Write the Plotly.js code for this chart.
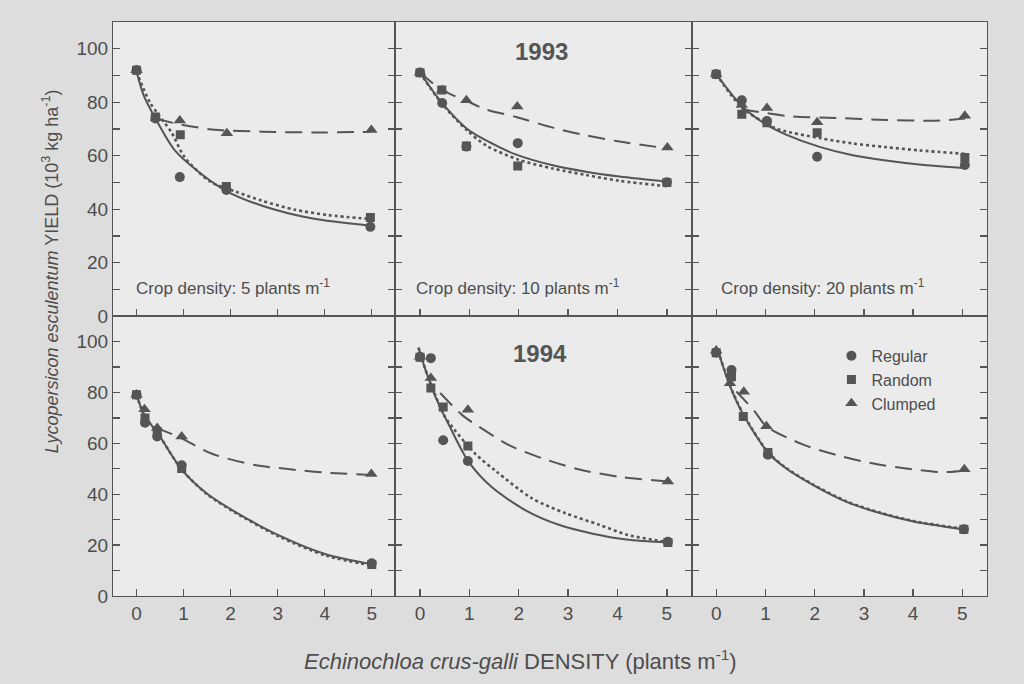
<!DOCTYPE html>
<html>
<head>
<meta charset="utf-8">
<script src="https://cdn.plot.ly/plotly-3.0.1.min.js"></script>
<style>
  html, body { margin: 0; padding: 0; background: #dddddd; }
  #chart { width: 1024px; height: 684px; }
</style>
</head>
<body>
<div id="chart"></div>
<script>
// ---------- tick labels / categories ----------
const xTickVals = [0, 1, 2, 3, 4, 5];
const yTickVals = [0, 20, 40, 60, 80, 100];
const yTickText = ['0', '20', '40', '60', '80', '100'];
const seriesNames = ['Regular', 'Random', 'Clumped'];
const years = ['1993', '1994'];
const cropDensities = ['5', '10', '20'];

// ---------- 1993, crop density 5 ----------
const p93d5_regX = [0, 0.4, 0.92, 1.91, 4.97];
const p93d5_regY = [92, 73.9, 52, 47.2, 33.4];
const p93d5_ranX = [0, 0.4, 0.93, 1.91, 4.97];
const p93d5_ranY = [92, 74.5, 67.8, 48.5, 36.9];
const p93d5_cluX = [0, 0.42, 0.92, 1.92, 4.99];
const p93d5_cluY = [92, 74, 73.2, 68.4, 69.6];
const p93d5_fitRegX = [0, 0.15, 0.41, 0.81, 1.29, 1.91, 2.67, 3.72, 4.98];
const p93d5_fitRegY = [91.5, 82.7, 73.7, 62.1, 54.4, 46.8, 41.3, 36.6, 33.8];
const p93d5_fitRanX = [0, 0.28, 0.75, 1.02, 1.56, 2.12, 2.66, 3.37, 4.08, 4.98];
const p93d5_fitRanY = [91.5, 80.1, 68.5, 59.5, 50.4, 46.5, 43.2, 39.8, 37.8, 36.3];
const p93d5_fitCluX = [0.42, 0.96, 1.66, 2.66, 3.77, 4.96];
const p93d5_fitCluY = [73.7, 71.6, 69.7, 69.0, 68.7, 68.9];

// ---------- 1993, crop density 10 ----------
const p93d10_regX = [0, 0.45, 0.94, 1.98, 5.0];
const p93d10_regY = [91.1, 79.7, 63.4, 64.7, 50.1];
const p93d10_ranX = [0, 0.44, 0.94, 1.98, 5.0];
const p93d10_ranY = [91, 84.6, 63.6, 56.2, 50];
const p93d10_cluX = [0, 0.45, 0.94, 1.97, 5.01];
const p93d10_cluY = [91, 84.5, 80.7, 78.4, 63.1];
const p93d10_fitRegX = [0, 0.42, 0.95, 1.35, 1.95, 2.69, 3.36, 4.04, 5.02];
const p93d10_fitRegY = [91.1, 80.3, 70.1, 65.6, 60.4, 56.4, 54.0, 52.2, 50.3];
const p93d10_fitRanX = [0, 0.42, 0.95, 1.35, 2.0, 2.69, 3.36, 4.04, 5.0];
const p93d10_fitRanY = [91.1, 80.0, 69.5, 63.7, 58.5, 55.2, 52.8, 50.6, 48.6];
const p93d10_fitCluX = [0, 0.44, 0.94, 1.35, 1.95, 2.69, 3.36, 4.04, 5.02];
const p93d10_fitCluY = [91.1, 84.6, 80.5, 77.2, 74.5, 70.5, 67.6, 65.3, 62.7];

// ---------- 1993, crop density 20 ----------
const p93d20_regX = [0, 0.52, 1.03, 2.05, 5.05];
const p93d20_regY = [90.5, 80.7, 73, 59.6, 56.5];
const p93d20_ranX = [0, 0.52, 1.03, 2.05, 5.05];
const p93d20_ranY = [90.5, 75.5, 72.3, 68.6, 59.3];
const p93d20_cluX = [0, 0.52, 1.03, 2.05, 5.05];
const p93d20_cluY = [90.5, 79, 77.8, 72.5, 74.9];
const p93d20_fitRegX = [0, 0.52, 1.02, 1.43, 2.1, 2.77, 3.45, 4.12, 5.06];
const p93d20_fitRegY = [90.5, 78.6, 71.6, 67.8, 63.3, 60.2, 58.2, 56.7, 55.3];
const p93d20_fitRanX = [0, 0.52, 1.02, 1.29, 2.1, 2.77, 3.45, 4.12, 5.06];
const p93d20_fitRanY = [90.5, 78, 72, 69.7, 66.6, 64.6, 63.2, 62.0, 60.7];
const p93d20_fitCluX = [0.52, 1.43, 2.44, 3.45, 4.46, 5.06];
const p93d20_fitCluY = [77.4, 74.9, 74.1, 73.4, 73.1, 73.9];

// ---------- 1994, crop density 5 ----------
const p94d5_regX = [0, 0.18, 0.44, 0.96, 5.0];
const p94d5_regY = [79.1, 68.1, 62.7, 51.4, 12.9];
const p94d5_ranX = [0, 0.18, 0.44, 0.96, 5.0];
const p94d5_ranY = [79.1, 70, 64.7, 50.1, 12.4];
const p94d5_cluX = [0, 0.17, 0.44, 0.96, 4.99];
const p94d5_cluY = [79.1, 73.4, 66, 62.7, 48.0];
const p94d5_fitRegX = [0, 0.17, 0.44, 0.96, 1.5, 2.06, 3.05, 4.04, 5.0];
const p94d5_fitRegY = [79.1, 70.8, 64.3, 49.7, 40.2, 33.5, 23.6, 16.3, 12.5];
const p94d5_fitRanX = [0, 0.17, 0.44, 0.96, 1.5, 2.06, 3.05, 4.04, 5.0];
const p94d5_fitRanY = [79.1, 70.8, 64.3, 49.7, 40.0, 33.2, 23.2, 15.8, 12.0];
const p94d5_fitCluX = [0.42, 0.96, 1.59, 2.51, 3.22, 3.94, 4.99];
const p94d5_fitCluY = [66.1, 62.0, 56.0, 51.5, 49.9, 48.6, 47.6];

// ---------- 1994, crop density 10 ----------
const p94d10_regX = [0, 0.22, 0.47, 0.97, 5.02];
const p94d10_regY = [94, 93.5, 61.2, 53.1, 21.3];
const p94d10_ranX = [0, 0.22, 0.47, 0.97, 5.02];
const p94d10_ranY = [93.9, 81.8, 74.3, 59.0, 21.0];
const p94d10_cluX = [0, 0.22, 0.97, 5.02];
const p94d10_cluY = [94, 85.7, 73.2, 45.0];
const p94d10_fitRegX = [-0.03, 0.11, 0.31, 0.6, 0.98, 1.44, 2.12, 2.81, 3.5, 4.18, 5.02];
const p94d10_fitRegY = [97.6, 89.0, 78.5, 66.7, 52.9, 43.0, 33.9, 28.0, 24.5, 22.2, 21.0];
const p94d10_fitRanX = [-0.03, 0.11, 0.31, 0.5, 1.11, 1.55, 2.26, 2.95, 3.63, 4.19, 4.85, 5.02];
const p94d10_fitRanY = [97.6, 89, 79, 70.6, 56.1, 48.9, 38.5, 32.5, 28.0, 24.1, 21.7, 21.2];
const p94d10_fitCluX = [0.41, 0.85, 1.19, 1.80, 2.48, 3.23, 4.06, 5.02];
const p94d10_fitCluY = [79.8, 71.2, 66.6, 59.3, 54.1, 49.7, 46.8, 45.0];

// ---------- 1994, crop density 20 ----------
const p94d20_regX = [0, 0.31, 1.05, 5.03];
const p94d20_regY = [95.6, 88.8, 55.5, 26.2];
const p94d20_ranX = [0, 0.31, 0.55, 1.05, 5.03];
const p94d20_ranY = [95.6, 86.2, 70.6, 56.4, 26.2];
const p94d20_cluX = [0, 0.28, 0.56, 1.02, 5.04];
const p94d20_cluY = [96.5, 83.6, 80.3, 66.7, 49.8];
const p94d20_fitRegX = [0.04, 0.27, 0.55, 1.05, 1.43, 1.98, 2.66, 3.34, 4.03, 5.03];
const p94d20_fitRegY = [96.2, 83.0, 71.3, 56.4, 50.0, 43.5, 36.9, 32.5, 29.2, 26.2];
const p94d20_fitRanX = [0.04, 0.27, 0.55, 1.05, 1.43, 1.98, 2.66, 3.34, 4.03, 5.03];
const p94d20_fitRanY = [96.4, 83.2, 71.5, 56.6, 50.2, 43.7, 37.1, 32.7, 29.4, 26.4];
const p94d20_fitCluX = [0.41, 0.78, 1.02, 1.77, 2.45, 3.13, 3.82, 4.57, 5.04];
const p94d20_fitCluY = [80.4, 72.6, 66.7, 59.5, 55.4, 52.3, 50.2, 48.7, 49.3];

// ---------- assemble ----------
const panels = [
  {ax: '', pts: [[p93d5_regX, p93d5_regY], [p93d5_ranX, p93d5_ranY], [p93d5_cluX, p93d5_cluY]],
   fits: [[p93d5_fitRegX, p93d5_fitRegY], [p93d5_fitRanX, p93d5_fitRanY], [p93d5_fitCluX, p93d5_fitCluY]]},
  {ax: '2', pts: [[p93d10_regX, p93d10_regY], [p93d10_ranX, p93d10_ranY], [p93d10_cluX, p93d10_cluY]],
   fits: [[p93d10_fitRegX, p93d10_fitRegY], [p93d10_fitRanX, p93d10_fitRanY], [p93d10_fitCluX, p93d10_fitCluY]]},
  {ax: '3', pts: [[p93d20_regX, p93d20_regY], [p93d20_ranX, p93d20_ranY], [p93d20_cluX, p93d20_cluY]],
   fits: [[p93d20_fitRegX, p93d20_fitRegY], [p93d20_fitRanX, p93d20_fitRanY], [p93d20_fitCluX, p93d20_fitCluY]]},
  {ax: '4', pts: [[p94d5_regX, p94d5_regY], [p94d5_ranX, p94d5_ranY], [p94d5_cluX, p94d5_cluY]],
   fits: [[p94d5_fitRegX, p94d5_fitRegY], [p94d5_fitRanX, p94d5_fitRanY], [p94d5_fitCluX, p94d5_fitCluY]]},
  {ax: '5', pts: [[p94d10_regX, p94d10_regY], [p94d10_ranX, p94d10_ranY], [p94d10_cluX, p94d10_cluY]],
   fits: [[p94d10_fitRegX, p94d10_fitRegY], [p94d10_fitRanX, p94d10_fitRanY], [p94d10_fitCluX, p94d10_fitCluY]]},
  {ax: '6', pts: [[p94d20_regX, p94d20_regY], [p94d20_ranX, p94d20_ranY], [p94d20_cluX, p94d20_cluY]],
   fits: [[p94d20_fitRegX, p94d20_fitRegY], [p94d20_fitRanX, p94d20_fitRanY], [p94d20_fitCluX, p94d20_fitCluY]]}
];

const INK = '#555555';
const symbols = ['circle', 'square', 'triangle-up'];
const symSizes = [10, 9, 11];
const lineDash = ['solid', 'dot', '17px,9px'];
const lineWidth = [2, 2.6, 2];

const traces = [];
panels.forEach((p, pi) => {
  const xa = 'x' + p.ax, ya = 'y' + p.ax;
  p.fits.forEach((f, si) => {
    traces.push({
      x: f[0], y: f[1], xaxis: xa, yaxis: ya, mode: 'lines', showlegend: false,
      hoverinfo: 'skip',
      line: {color: INK, width: lineWidth[si], dash: lineDash[si], shape: 'spline', smoothing: 0.8}
    });
  });
  p.pts.forEach((s, si) => {
    traces.push({
      x: s[0], y: s[1], xaxis: xa, yaxis: ya, mode: 'markers',
      name: seriesNames[si], showlegend: pi === 5,
      marker: {symbol: symbols[si], size: symSizes[si], color: INK}
    });
  });
});

const colDomains = [[0, 0.323], [0.323, 0.662], [0.662, 1]];
const rowDomains = [[0.4875, 1], [0, 0.4875]];
const tickFont = {family: 'Liberation Sans, Arial, sans-serif', size: 19, color: '#4d4d4d'};

const layout = {
  width: 1024, height: 684,
  margin: {l: 113, r: 37, t: 22, b: 88},
  paper_bgcolor: '#dddddd',
  plot_bgcolor: '#ebebeb',
  font: {family: 'Liberation Sans, Arial, sans-serif', color: '#4d4d4d'},
  showlegend: true,
  legend: {
    x: 0.822, y: 0.448, xanchor: 'left', yanchor: 'top',
    bgcolor: 'rgba(0,0,0,0)', font: {size: 16, color: '#4d4d4d'},
    itemwidth: 30, tracegroupgap: 0
  },
  annotations: [],
  hovermode: false
};

for (let i = 0; i < 6; i++) {
  const suf = i === 0 ? '' : String(i + 1);
  const row = Math.floor(i / 3), col = i % 3;
  layout['xaxis' + suf] = {
    domain: colDomains[col], anchor: 'y' + suf, range: [-0.5, 5.5],
    tickmode: 'array', tickvals: xTickVals, ticks: 'inside', ticklen: 7, tickwidth: 1.3,
    tickcolor: INK, showticklabels: row === 1, tickfont: tickFont,
    showline: true, linecolor: INK, linewidth: 1, mirror: true,
    showgrid: false, zeroline: false, fixedrange: true
  };
  layout['yaxis' + suf] = {
    domain: rowDomains[row], anchor: 'x' + suf, range: [0, 110],
    tickmode: 'array', tickvals: yTickVals, ticktext: yTickText,
    ticks: 'inside', ticklen: 7, tickwidth: 1.3, tickcolor: INK,
    minor: {tickmode: 'linear', tick0: 10, dtick: 20, ticks: 'inside', ticklen: 7, tickwidth: 1.3, tickcolor: INK, showgrid: false},
    showticklabels: col === 0, tickfont: tickFont,
    showline: true, linecolor: INK, linewidth: 1, mirror: 'ticks',
    showgrid: false, zeroline: false, fixedrange: true
  };
}

// crop density labels (top row)
const cropLabelX = [-0.05, -0.12, 0.05];
for (let c = 0; c < 3; c++) {
  layout.annotations.push({
    xref: 'x' + (c === 0 ? '' : String(c + 1)), yref: 'y' + (c === 0 ? '' : String(c + 1)),
    x: cropLabelX[c], y: 11, xanchor: 'left', yanchor: 'middle', showarrow: false,
    text: 'Crop density: ' + cropDensities[c] + ' plants m<sup>-1</sup>',
    font: {size: 17, color: '#4d4d4d'}
  });
}
// year labels
layout.annotations.push({
  xref: 'paper', yref: 'paper', x: 0.49, y: 0.948, xanchor: 'center', yanchor: 'middle',
  showarrow: false, text: '<b>' + years[0] + '</b>', font: {size: 24, color: '#555555'}
});
layout.annotations.push({
  xref: 'paper', yref: 'paper', x: 0.489, y: 0.423, xanchor: 'center', yanchor: 'middle',
  showarrow: false, text: '<b>' + years[1] + '</b>', font: {size: 24, color: '#555555'}
});
// axis titles
layout.annotations.push({
  xref: 'paper', yref: 'paper', x: 0.466, y: -0.112, xanchor: 'center', yanchor: 'middle',
  showarrow: false,
  text: '<i>Echinochloa crus-galli</i> DENSITY (plants m<sup>-1</sup>)',
  font: {size: 22, color: '#4d4d4d'}
});
layout.annotations.push({
  xref: 'paper', yref: 'paper', x: -0.072, y: 0.566, xanchor: 'center', yanchor: 'middle',
  showarrow: false, textangle: -90,
  text: '<i>Lycopersicon esculentum</i> YIELD (10<sup>3</sup> kg ha<sup>-1</sup>)',
  font: {size: 18, color: '#4d4d4d'}
});

Plotly.newPlot('chart', traces, layout, {staticPlot: true, displayModeBar: false});
</script>
</body>
</html>
